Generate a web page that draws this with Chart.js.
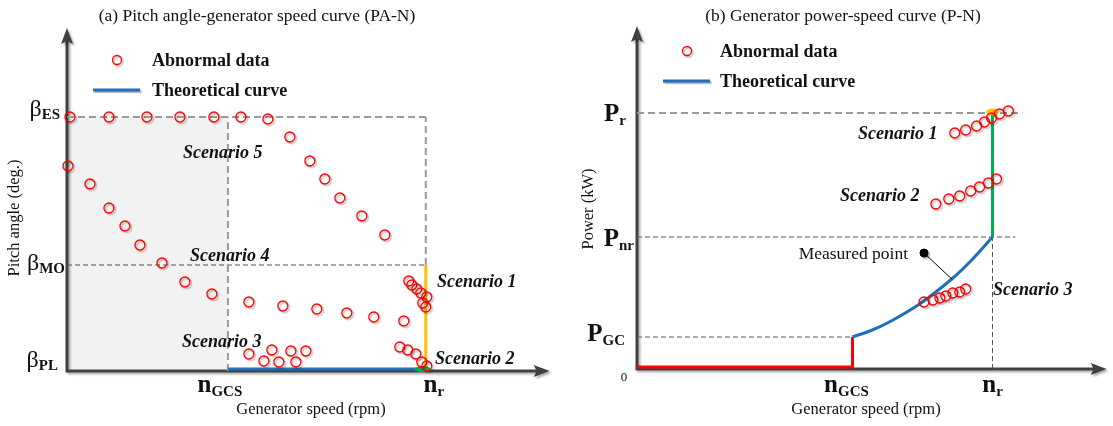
<!DOCTYPE html>
<html>
<head>
<meta charset="utf-8">
<script src="https://cdn.jsdelivr.net/npm/chart.js@4"></script>
<style>
  body { margin: 0; background: #fff; }
  .wrap { display: flex; width: 1113px; height: 426px; }
  canvas { display: block; }
</style>
</head>
<body>
<div class="wrap">
  <canvas id="paChart" width="556" height="426"></canvas>
  <canvas id="pnChart" width="557" height="426"></canvas>
</div>
<script>
// schematic units, counted from each panel's axis origin

// (a) pitch angle vs generator speed
var paSpeedTicks = [161, 359];
var paSpeedTickLabels = [['n', 'GCS'], ['n', 'r']];
var paAngleTicks = [254, 106, 2];
var paAngleTickLabels = [['β', 'ES'], ['β', 'MO'], ['β', 'PL']];

var paAbnormalSpeed = [3, 42, 80, 113, 147, 174, 201, 223, 243, 258, 273, 295, 318,
  1, 23, 42, 58, 73, 95, 118, 145,
  182, 216, 250, 280, 307, 337,
  182, 197, 205, 212, 224, 229, 239,
  342, 345, 350, 354, 360, 356, 359,
  333, 341, 349, 355, 360];
var paAbnormalAngle = [254, 254, 254, 254, 254, 254, 252, 234, 210, 192, 173, 155, 136,
  205, 187, 163, 145, 126, 108, 89, 77,
  69, 65, 62, 58, 54, 50,
  17, 10, 21, 9, 20, 9, 20,
  90, 86, 82, 78, 74, 68, 64,
  24, 21, 17, 9, 5];
var paScenario2Mark = [356, 2];

// (b) power vs generator speed
var pnSpeedTicks = [217, 358];
var pnSpeedTickLabels = [['n', 'GCS'], ['n', 'r']];
var pnPowerTicks = [256, 132, 32];
var pnPowerTickLabels = [['P', 'r'], ['P', 'nr'], ['P', 'GC']];
var pnCurveSpeed = [217, 237, 256, 286, 317, 336, 358];
var pnCurvePower = [32, 39, 48, 66, 90, 108, 132];
var pnCutInPower = 2;
var pnGuideEnd = [388, 381];
var pnAbnormalSpeed = [320, 331, 342, 350, 357, 365, 374,
  301, 314, 325, 336, 345, 354, 362,
  289, 298, 305, 311, 318, 325, 331];
var pnAbnormalPower = [236, 239, 243, 247, 251, 255, 258,
  165, 170, 173, 178, 182, 186, 190,
  67, 69, 71, 73, 76, 77, 80];
var pnMeasured = [289, 116];
var pnMeasuredOnCurve = [317, 90];
var pnScenario1Mark = [358, 257];

var SERIF = 'Liberation Serif';
var RED = '#ff0000', BLUE = '#1f6fbf', ORANGE = '#ffc000', GREEN = '#00b050';

function pts(xs, ys) {
  return xs.map(function (x, i) { return { x: x, y: ys[i] }; });
}

function ellipseMark(color, w, h) {
  var c = document.createElement('canvas');
  c.width = w + 2; c.height = h + 2;
  var g = c.getContext('2d');
  g.fillStyle = color;
  g.beginPath();
  g.ellipse(c.width / 2, c.height / 2, w / 2, h / 2, 0, 0, Math.PI * 2);
  g.fill();
  return c;
}

function line(data, color, width, extra) {
  var ds = { data: data, showLine: true, borderColor: color, borderWidth: width,
    pointRadius: 0, fill: false, clip: false, order: 4 };
  for (var k in extra) ds[k] = extra[k];
  return ds;
}
function guide(data, thick) {
  return line(data, thick ? '#9a9a9a' : '#555555', thick ? 2 : 1,
    { borderDash: thick ? [7, 4] : [5, 3], order: 6 });
}
function abnormal(data) {
  return { data: data, pointRadius: 5, pointBorderWidth: 1.3, pointBorderColor: RED,
    pointBackgroundColor: 'rgba(255,255,255,0)', order: 1, clip: false, shadow: true };
}

function drawText(ctx, s, x, y, font, align) {
  ctx.font = font;
  ctx.textAlign = align || 'left';
  ctx.textBaseline = 'alphabetic';
  ctx.fillText(s, x, y);
}
function drawSub(ctx, parts, x, y, mainFont, subFont, subDy, align) {
  ctx.font = mainFont; var w1 = ctx.measureText(parts[0]).width;
  ctx.font = subFont; var w2 = ctx.measureText(parts[1]).width;
  var x0 = align === 'right' ? x - w1 - w2 : align === 'center' ? x - (w1 + w2) / 2 : x;
  drawText(ctx, parts[0], x0, y, mainFont);
  drawText(ctx, parts[1], x0 + w1, y + subDy, subFont);
}

function drawAxes(chart) {
  var ctx = chart.ctx, a = chart.chartArea;
  ctx.save();
  ctx.shadowColor = 'rgba(0,0,0,0.3)';
  ctx.shadowOffsetX = 2; ctx.shadowOffsetY = 2; ctx.shadowBlur = 2;
  ctx.strokeStyle = ctx.fillStyle = '#404040';
  ctx.lineWidth = 3;
  ctx.beginPath();
  ctx.moveTo(a.left, a.top + 12);
  ctx.lineTo(a.left, a.bottom);
  ctx.lineTo(a.right - 12, a.bottom);
  ctx.stroke();
  ctx.beginPath();
  ctx.moveTo(a.left, a.top);
  ctx.lineTo(a.left - 6, a.top + 16);
  ctx.lineTo(a.left, a.top + 13);
  ctx.lineTo(a.left + 6, a.top + 16);
  ctx.closePath(); ctx.fill();
  ctx.beginPath();
  ctx.moveTo(a.right, a.bottom);
  ctx.lineTo(a.right - 16, a.bottom - 6);
  ctx.lineTo(a.right - 13, a.bottom);
  ctx.lineTo(a.right - 16, a.bottom + 6);
  ctx.closePath(); ctx.fill();
  ctx.restore();
}

function legend(ctx, cx, cy, lx1, lx2, ly, tx) {
  ctx.save();
  ctx.shadowColor = 'rgba(0,0,0,0.3)';
  ctx.shadowOffsetX = 1.5; ctx.shadowOffsetY = 1.5; ctx.shadowBlur = 1;
  ctx.strokeStyle = RED; ctx.lineWidth = 1.3;
  ctx.beginPath(); ctx.arc(cx, cy, 4.5, 0, Math.PI * 2); ctx.stroke();
  ctx.strokeStyle = BLUE; ctx.lineWidth = 3;
  ctx.beginPath(); ctx.moveTo(lx1, ly); ctx.lineTo(lx2, ly); ctx.stroke();
  ctx.restore();
  ctx.fillStyle = '#111';
  drawText(ctx, 'Abnormal data', tx, cy + 6, 'bold 18px ' + SERIF);
  drawText(ctx, 'Theoretical curve', tx, ly + 6, 'bold 18px ' + SERIF);
}

function schematic(cfg) {
  return {
    id: 'schematic',
    beforeDatasetsDraw: function (chart) {
      if (cfg.axesAfter < 0) drawAxes(chart);
    },
    beforeDatasetDraw: function (chart, args) {
      var ctx = chart.ctx;
      ctx.save();
      if (chart.data.datasets[args.index].shadow) {
        ctx.shadowColor = 'rgba(0,0,0,0.3)';
        ctx.shadowOffsetX = 1.5; ctx.shadowOffsetY = 1.5; ctx.shadowBlur = 1.5;
      }
    },
    afterDatasetDraw: function (chart, args) {
      chart.ctx.restore();
      if (args.index === cfg.axesAfter) drawAxes(chart);
    },
    afterDraw: function (chart) {
      var ctx = chart.ctx;
      ctx.save();
      ctx.fillStyle = '#111';
      cfg.draw(chart, ctx, chart.scales.x, chart.scales.y);
      ctx.restore();
    }
  };
}

function makeChart(id, pad, xMax, yMax, datasets, cfg) {
  return new Chart(document.getElementById(id), {
    type: 'scatter',
    data: { datasets: datasets },
    options: {
      responsive: false,
      animation: false,
      events: [],
      layout: { padding: pad },
      scales: {
        x: { type: 'linear', min: 0, max: xMax, display: false },
        y: { type: 'linear', min: 0, max: yMax, display: false }
      },
      plugins: { legend: { display: false }, tooltip: { enabled: false } }
    },
    plugins: [schematic(cfg)]
  });
}

// ---------- (a) PA-N ----------
var nGCS = paSpeedTicks[0], nR = paSpeedTicks[1];
var bES = paAngleTicks[0], bMO = paAngleTicks[1], bPL = paAngleTicks[2];

makeChart('paChart', { left: 67, right: 6, top: 28, bottom: 55 }, 483, 343, [
  abnormal(pts(paAbnormalSpeed, paAbnormalAngle)),
  { data: [{ x: paScenario2Mark[0], y: paScenario2Mark[1] }], pointStyle: ellipseMark(GREEN, 16, 6),
    pointRadius: 5, order: 3, clip: false },
  line(pts([nGCS, nR], [bPL, bPL]), BLUE, 3),
  line(pts([nR, nR], [bPL, bMO]), ORANGE, 3),
  guide(pts([0, nR], [bES, bES]), true),
  guide(pts([nGCS, nGCS], [0, bES]), true),
  guide(pts([nR, nR], [bMO, bES]), true),
  guide(pts([0, nR], [bMO, bMO]), false),
  { type: 'line', data: pts([0, nGCS], [bES, bES]), fill: 'origin', backgroundColor: '#f2f2f2',
    borderWidth: 0, pointRadius: 0, order: 10 }
], {
  axesAfter: 8,
  draw: function (chart, ctx, x, y) {
    drawText(ctx, '(a) Pitch angle-generator speed curve (PA-N)', 257, 21, '17.5px ' + SERIF, 'center');
    legend(ctx, 117, 60, 93, 140, 90, 152);
    var angleX = [60, 65, 58], angleDy = [-1, 5, -2];
    paAngleTicks.forEach(function (v, i) {
      drawSub(ctx, paAngleTickLabels[i], angleX[i], y.getPixelForValue(v) + angleDy[i],
        '24px ' + SERIF, 'bold 15px ' + SERIF, 3, 'right');
    });
    var speedDx = [-8, 8];
    paSpeedTicks.forEach(function (v, i) {
      drawSub(ctx, paSpeedTickLabels[i], x.getPixelForValue(v) + speedDx[i], 392,
        'bold 25px ' + SERIF, 'bold 15px ' + SERIF, 4, 'center');
    });
    drawText(ctx, 'Generator speed (rpm)', 311, 414, '16.5px ' + SERIF, 'center');
    ctx.save();
    ctx.translate(19, 218); ctx.rotate(-Math.PI / 2);
    drawText(ctx, 'Pitch angle (deg.)', 0, 0, '16.5px ' + SERIF, 'center');
    ctx.restore();
    var sf = 'italic bold 18px ' + SERIF;
    drawText(ctx, 'Scenario 5', 183, 158, sf);
    drawText(ctx, 'Scenario 4', 190, 261, sf);
    drawText(ctx, 'Scenario 3', 182, 347, sf);
    drawText(ctx, 'Scenario 1', 437, 287, sf);
    drawText(ctx, 'Scenario 2', 435, 364, sf);
  }
});

// ---------- (b) P-N ----------
var gGCS = pnSpeedTicks[0], gR = pnSpeedTicks[1];
var pR = pnPowerTicks[0], pNR = pnPowerTicks[1], pGC = pnPowerTicks[2];

makeChart('pnChart', { left: 81, right: 3, top: 26, bottom: 57 }, 473, 343, [
  abnormal(pts(pnAbnormalSpeed, pnAbnormalPower)),
  { data: [{ x: pnMeasured[0], y: pnMeasured[1] }], pointRadius: 4, pointBackgroundColor: '#000',
    pointBorderColor: '#000', order: 2, clip: false, shadow: true },
  line(pts([pnMeasured[0], pnMeasuredOnCurve[0]], [pnMeasured[1], pnMeasuredOnCurve[1]]), '#000', 1, { order: 2 }),
  { data: [{ x: pnScenario1Mark[0], y: pnScenario1Mark[1] }], pointStyle: ellipseMark(ORANGE, 13, 7),
    pointRadius: 5, order: 3, clip: false },
  line(pts(pnCurveSpeed, pnCurvePower), BLUE, 3, { tension: 0.4 }),
  line(pts([0, gGCS, gGCS], [pnCutInPower, pnCutInPower, pGC]), RED, 3),
  line(pts([gR, gR], [pNR, pR]), GREEN, 3),
  guide(pts([0, pnGuideEnd[0]], [pR, pR]), true),
  guide(pts([0, pnGuideEnd[1]], [pNR, pNR]), false),
  guide(pts([0, gGCS], [pGC, pGC]), false),
  guide(pts([gR, gR], [0, pNR]), false)
], {
  axesAfter: -1,
  draw: function (chart, ctx, x, y) {
    drawText(ctx, '(b) Generator power-speed curve (P-N)', 287, 21, '17.5px ' + SERIF, 'center');
    legend(ctx, 131, 51, 107, 154, 81, 164);
    var powerX = [70, 78, 69], powerDy = [8, 9, 4];
    pnPowerTicks.forEach(function (v, i) {
      drawSub(ctx, pnPowerTickLabels[i], powerX[i], y.getPixelForValue(v) + powerDy[i],
        'bold 25px ' + SERIF, 'bold 15px ' + SERIF, 4, 'right');
    });
    drawText(ctx, '0', 68, 381, '13px ' + SERIF, 'center');
    var speedDx = [-6, 0];
    pnSpeedTicks.forEach(function (v, i) {
      drawSub(ctx, pnSpeedTickLabels[i], x.getPixelForValue(v) + speedDx[i], 392,
        'bold 25px ' + SERIF, 'bold 15px ' + SERIF, 4, 'center');
    });
    drawText(ctx, 'Generator speed (rpm)', 310, 414, '16.5px ' + SERIF, 'center');
    ctx.save();
    ctx.translate(37, 209); ctx.rotate(-Math.PI / 2);
    drawText(ctx, 'Power (kW)', 0, 0, '16.5px ' + SERIF, 'center');
    ctx.restore();
    drawText(ctx, 'Measured point', 352, 259, '17.5px ' + SERIF, 'right');
    var sf = 'italic bold 18px ' + SERIF;
    drawText(ctx, 'Scenario 1', 302, 139, sf);
    drawText(ctx, 'Scenario 2', 284, 201, sf);
    drawText(ctx, 'Scenario 3', 437, 295, sf);
  }
});
</script>
</body>
</html>
